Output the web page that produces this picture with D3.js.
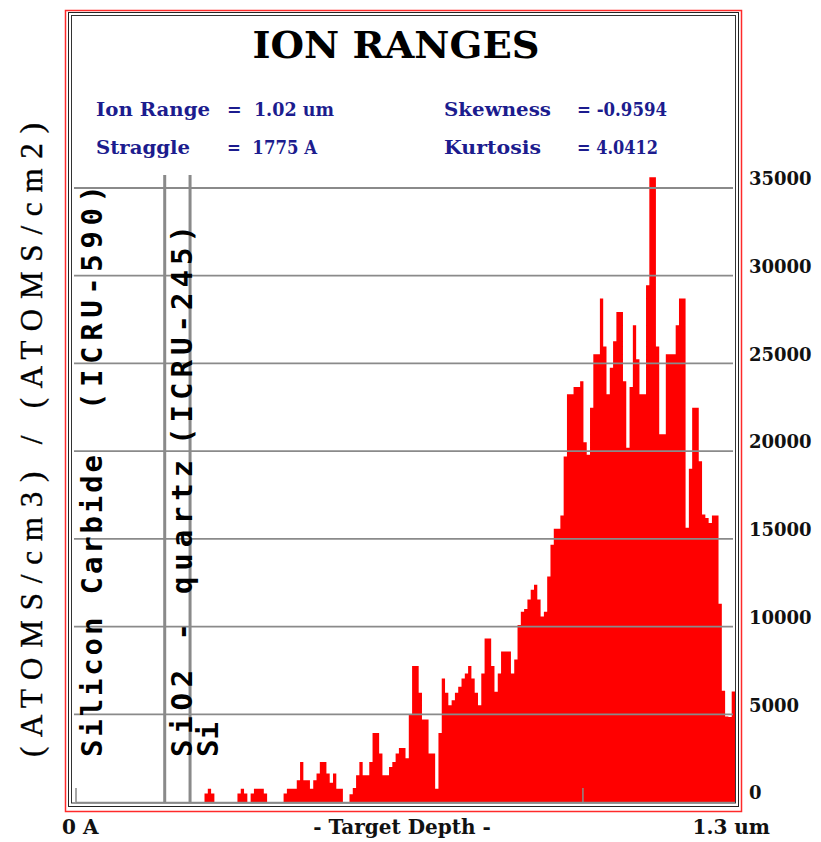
<!DOCTYPE html>
<html>
<head>
<meta charset="utf-8">
<script src="https://cdn.jsdelivr.net/npm/d3@7"></script>
<style>
    body { margin: 0; background: #fff; }
    svg { display: block; }
</style>
</head>
<body>
<div id="chart"></div>
<script>
// ions per depth bin (65 A bins, 0 .. 1.3 um)
const counts = [
    0, 0, 0, 0, 0, 0, 0, 0, 0, 0,
    0, 0, 0, 0, 0, 0, 0, 0, 0, 0,
    0, 0, 0, 0, 0, 0, 0, 0, 0, 0,
    0, 0, 0, 0, 0, 0, 0, 0, 0, 480,
    760, 480, 0, 0, 0, 0, 0, 0, 0, 480,
    760, 480, 0, 480, 760, 760, 760, 480, 0, 0,
    0, 0, 0, 480, 760, 760, 760, 1240, 2285, 1240,
    1240, 760, 1240, 1620, 2285, 2285, 1620, 1100, 1620, 760,
    760, 0, 0, 440, 800, 1520, 2280, 1520, 1520, 2280,
    3940, 3940, 2760, 1520, 1520, 2000, 2280, 2760, 3080, 3080,
    2500, 5000, 7750, 7750, 6230, 4700, 4700, 2760, 2760, 760,
    3940, 7040, 6230, 5520, 5800, 6230, 6570, 7040, 7330, 7750,
    7040, 6230, 5520, 7330, 9320, 9320, 7750, 6280, 7330, 8580,
    8580, 8580, 7330, 8120, 10090, 10850, 11000, 11550, 12100, 12380,
    11550, 10570, 10850, 12860, 14670, 15570, 15570, 16330, 19700, 23240,
    23240, 23650, 23650, 23990, 20500, 19800, 22480, 25520, 25520, 28700,
    25960, 23240, 24760, 26270, 27930, 27930, 23990, 20200, 23650, 27180,
    25240, 23240, 23240, 29460, 35610, 35610, 25960, 20960, 20960, 25520,
    25520, 25520, 27180, 28700, 28700, 15630, 19000, 22480, 22480, 19420,
    16390, 16190, 15910, 16330, 16330, 11300, 6340, 4870, 4840, 6300
];
const BIN_WIDTH = 65;      // Angstrom
const DEPTH_MAX = 13000;   // Angstrom
const DEPTH_TICKS = [0, 10000];
const yTicks = [0, 5000, 10000, 15000, 20000, 25000, 30000, 35000];

const layerNames = ["Silicon Carbide", "SiO2 - quartz", "Si"];
const layerMaterials = ["(ICRU-590)", "(ICRU-245)", ""];
const layerEdges = [1750, 2250];

const statNames = ["Ion Range", "Straggle", "Skewness", "Kurtosis"];
const statValues = ["= 1.02 um", "= 1775 A", "= -0.9594", "= 4.0412"];

const TITLE = "ION RANGES";
const Y_LABEL = "(ATOMS/cm3) / (ATOMS/cm2)";
const X_LABELS = ["0 A", "- Target Depth -", "1.3 um"];

const WIDTH = 821, HEIGHT = 842;
const SERIF = "'DejaVu Serif', serif";
const MONO = "'DejaVu Sans Mono', monospace";
const NAVY = "#1c1c8e";
const GRID = "#8a8a8a";

const svg = d3.select("#chart")
    .append("svg")
    .attr("width", WIDTH)
    .attr("height", HEIGHT);

const x = d3.scaleLinear().domain([0, DEPTH_MAX]).range([76, 735]);
const y = d3.scaleLinear().domain([0, 35000]).range([802, 188]);

// ---------------- frame ----------------
svg.append("rect")
    .attr("x", 65.5).attr("y", 10.5)
    .attr("width", 676).attr("height", 801)
    .attr("fill", "none").attr("stroke", "#ff2a2a").attr("stroke-width", 1.5);
svg.append("rect")
    .attr("x", 68.5).attr("y", 12.5)
    .attr("width", 670).attr("height", 794)
    .attr("fill", "none").attr("stroke", "#222").attr("stroke-width", 1);
svg.append("rect")
    .attr("x", 71.5).attr("y", 15.5)
    .attr("width", 664).attr("height", 787.5)
    .attr("fill", "none").attr("stroke", "#333").attr("stroke-width", 1);

// ---------------- histogram ----------------
const points = counts.map((c, i) => ({depth: i * BIN_WIDTH, count: c}));
points.push({depth: DEPTH_MAX, count: counts[counts.length - 1]});

const area = d3.area()
    .x(d => x(d.depth))
    .y0(y(0))
    .y1(d => y(d.count))
    .curve(d3.curveStepAfter);

svg.append("path")
    .datum(points)
    .attr("d", area)
    .attr("fill", "#ff0000");

// ---------------- grid ----------------
svg.append("g")
    .selectAll("line")
    .data(yTicks.slice(1))
    .join("line")
    .attr("x1", 74).attr("x2", 733)
    .attr("y1", d => y(d)).attr("y2", d => y(d))
    .attr("stroke", GRID)
    .attr("stroke-width", 1.8);

// bottom axis with depth ticks
svg.append("line")
    .attr("x1", x(0)).attr("x2", x(DEPTH_MAX))
    .attr("y1", y(0) + 0.5).attr("y2", y(0) + 0.5)
    .attr("stroke", GRID).attr("stroke-width", 1.5);
svg.append("g")
    .selectAll("line")
    .data(DEPTH_TICKS)
    .join("line")
    .attr("x1", d => x(d)).attr("x2", d => x(d))
    .attr("y1", y(0) - 14).attr("y2", y(0))
    .attr("stroke", GRID).attr("stroke-width", 1.5);

// layer boundaries
svg.append("g")
    .selectAll("line")
    .data(layerEdges)
    .join("line")
    .attr("x1", d => x(d)).attr("x2", d => x(d))
    .attr("y1", 175).attr("y2", y(0))
    .attr("stroke", GRID)
    .attr("stroke-width", 3);

// ---------------- right axis labels ----------------
const yAxis = d3.axisRight(y)
    .tickValues(yTicks)
    .tickSize(0)
    .tickPadding(0)
    .tickFormat(d3.format("d"));

const yAxisG = svg.append("g")
    .attr("transform", "translate(749,-9)")
    .call(yAxis);
yAxisG.select(".domain").remove();
yAxisG.selectAll("text")
    .attr("font-family", SERIF)
    .attr("font-weight", "bold")
    .attr("font-size", 18)
    .attr("fill", "#111");

// ---------------- layer names ----------------
const layerBase = [102, 192, 218];
const nameLen = [302, 297, null];
const matStart = [410, 445];
const matLen = [225, 220];

layerNames.forEach((name, i) => {
    const t = svg.append("text")
        .attr("transform", `translate(${layerBase[i]},757) rotate(-90)`)
        .attr("font-family", MONO)
        .attr("font-weight", "bold")
        .attr("font-size", 29)
        .attr("fill", "#000")
        .text(name);
    if (nameLen[i]) t.attr("textLength", nameLen[i]).attr("lengthAdjust", "spacing");
    if (layerMaterials[i]) {
        svg.append("text")
            .attr("transform", `translate(${layerBase[i]},${matStart[i]}) rotate(-90)`)
            .attr("font-family", MONO)
            .attr("font-weight", "bold")
            .attr("font-size", 29)
            .attr("fill", "#000")
            .attr("textLength", matLen[i])
            .attr("lengthAdjust", "spacing")
            .text(layerMaterials[i]);
    }
});

// ---------------- y label ----------------
svg.append("text")
    .attr("transform", "translate(42,757) rotate(-90)")
    .attr("font-family", "'Liberation Serif', serif")
    .attr("font-size", 31)
    .attr("stroke", "#000")
    .attr("stroke-width", 0.4)
    .attr("fill", "#000")
    .attr("textLength", 634)
    .attr("lengthAdjust", "spacing")
    .text(Y_LABEL);

// ---------------- title and stats ----------------
svg.append("text")
    .attr("x", 396).attr("y", 58)
    .attr("text-anchor", "middle")
    .attr("font-family", SERIF)
    .attr("font-weight", "bold")
    .attr("font-size", 37)
    .attr("fill", "#000")
    .attr("textLength", 287)
    .attr("lengthAdjust", "spacingAndGlyphs")
    .text(TITLE);

const statX = [96, 96, 444, 444];
const statValX = [227, 227, 577, 577];
const statY = [116, 154, 116, 154];
const statNameLen = [114, 94, 107, 97];
const statValLen = [107, 90, 90, 81];

statNames.forEach((name, i) => {
    svg.append("text")
        .attr("x", statX[i]).attr("y", statY[i])
        .attr("font-family", SERIF)
        .attr("font-weight", "bold")
        .attr("font-size", 19)
        .attr("fill", NAVY)
        .attr("textLength", statNameLen[i])
        .attr("lengthAdjust", "spacingAndGlyphs")
        .text(name);
    svg.append("text")
        .attr("x", statValX[i]).attr("y", statY[i])
        .attr("font-family", SERIF)
        .attr("font-weight", "bold")
        .attr("font-size", 19)
        .attr("fill", NAVY)
        .attr("textLength", statValLen[i])
        .attr("lengthAdjust", "spacingAndGlyphs")
        .attr("xml:space", "preserve")
        .text(statValues[i].replace("= ", i < 2 ? "=  " : "= "));
});

// ---------------- bottom labels ----------------
const xLabelPos = [[62, "start"], [402, "middle"], [770, "end"]];
X_LABELS.forEach((lbl, i) => {
    svg.append("text")
        .attr("x", xLabelPos[i][0]).attr("y", 834)
        .attr("text-anchor", xLabelPos[i][1])
        .attr("font-family", SERIF)
        .attr("font-weight", "bold")
        .attr("font-size", 20)
        .attr("fill", "#111")
        .text(lbl);
});
</script>
</body>
</html>
